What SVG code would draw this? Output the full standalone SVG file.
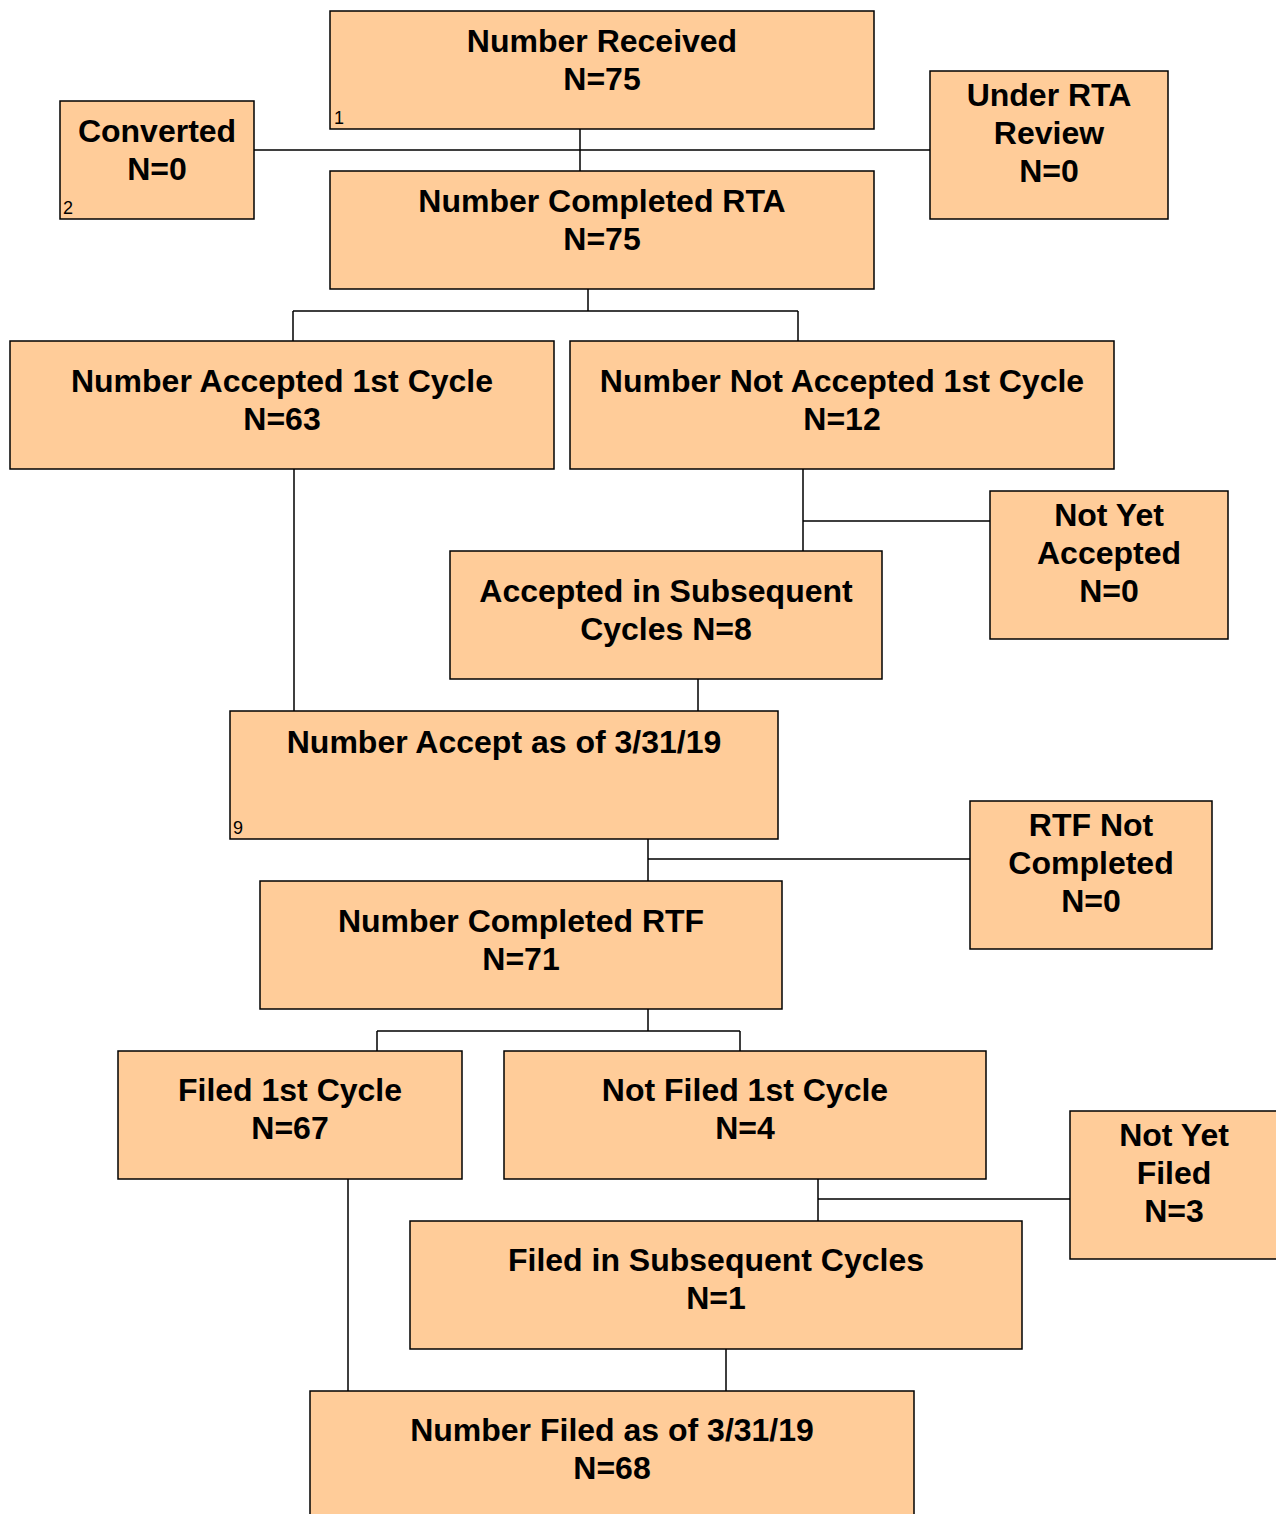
<svg xmlns="http://www.w3.org/2000/svg" width="1276" height="1514" viewBox="0 0 1276 1514">
<style>
.b{fill:#FFCC99;stroke:#000;stroke-width:1.5}
.t{font-family:"Liberation Sans",Arial,sans-serif;font-weight:bold;font-size:32px;fill:#000;text-anchor:middle}
.s{font-family:"Liberation Sans",Arial,sans-serif;font-size:18px;fill:#000}
.c{stroke:#000;stroke-width:1.5;fill:none}
</style>
<rect width="1276" height="1514" fill="#fff"/>
<g id="connectors">
<path class="c" d="M580 129V171M254 150H930"/>
<path class="c" d="M588 289V311M293 311H798M293 311V341M798 311V341"/>
<path class="c" d="M803 469V551M803 521H990"/>
<path class="c" d="M294 469V711M698 679V711"/>
<path class="c" d="M648 839V881M648 859H970"/>
<path class="c" d="M648 1009V1031M377 1031H740M377 1031V1051M740 1031V1051"/>
<path class="c" d="M818 1179V1221M818 1199H1070"/>
<path class="c" d="M348 1179V1391M726 1349V1391"/>
</g>
<g id="n1"><rect class="b" x="330" y="11" width="544" height="118"/><text class="t" x="602" y="52">Number Received</text><text class="t" x="602" y="90">N=75</text><text class="s" x="334" y="124">1</text></g>
<g id="n2"><rect class="b" x="60" y="101" width="194" height="118"/><text class="t" x="157" y="142">Converted</text><text class="t" x="157" y="180">N=0</text><text class="s" x="63" y="214">2</text></g>
<g id="n3"><rect class="b" x="930" y="71" width="238" height="148"/><text class="t" x="1049" y="106">Under RTA</text><text class="t" x="1049" y="144">Review</text><text class="t" x="1049" y="182">N=0</text></g>
<g id="n4"><rect class="b" x="330" y="171" width="544" height="118"/><text class="t" x="602" y="212">Number Completed RTA</text><text class="t" x="602" y="250">N=75</text></g>
<g id="n5"><rect class="b" x="10" y="341" width="544" height="128"/><text class="t" x="282" y="392">Number Accepted 1st Cycle</text><text class="t" x="282" y="430">N=63</text></g>
<g id="n6"><rect class="b" x="570" y="341" width="544" height="128"/><text class="t" x="842" y="392">Number Not Accepted 1st Cycle</text><text class="t" x="842" y="430">N=12</text></g>
<g id="n7"><rect class="b" x="990" y="491" width="238" height="148"/><text class="t" x="1109" y="526">Not Yet</text><text class="t" x="1109" y="564">Accepted</text><text class="t" x="1109" y="602">N=0</text></g>
<g id="n8"><rect class="b" x="450" y="551" width="432" height="128"/><text class="t" x="666" y="602">Accepted in Subsequent</text><text class="t" x="666" y="640">Cycles N=8</text></g>
<g id="n9"><rect class="b" x="230" y="711" width="548" height="128"/><text class="t" x="504" y="753">Number Accept as of 3/31/19</text><text class="s" x="233" y="834">9</text></g>
<g id="n10"><rect class="b" x="970" y="801" width="242" height="148"/><text class="t" x="1091" y="836">RTF Not</text><text class="t" x="1091" y="874">Completed</text><text class="t" x="1091" y="912">N=0</text></g>
<g id="n11"><rect class="b" x="260" y="881" width="522" height="128"/><text class="t" x="521" y="932">Number Completed RTF</text><text class="t" x="521" y="970">N=71</text></g>
<g id="n12"><rect class="b" x="118" y="1051" width="344" height="128"/><text class="t" x="290" y="1101">Filed 1st Cycle</text><text class="t" x="290" y="1139">N=67</text></g>
<g id="n13"><rect class="b" x="504" y="1051" width="482" height="128"/><text class="t" x="745" y="1101">Not Filed 1st Cycle</text><text class="t" x="745" y="1139">N=4</text></g>
<g id="n14"><rect class="b" x="1070" y="1111" width="210" height="148"/><text class="t" x="1174" y="1146">Not Yet</text><text class="t" x="1174" y="1184">Filed</text><text class="t" x="1174" y="1222">N=3</text></g>
<g id="n15"><rect class="b" x="410" y="1221" width="612" height="128"/><text class="t" x="716" y="1271">Filed in Subsequent Cycles</text><text class="t" x="716" y="1309">N=1</text></g>
<g id="n16"><rect class="b" x="310" y="1391" width="604" height="130"/><text class="t" x="612" y="1441">Number Filed as of 3/31/19</text><text class="t" x="612" y="1479">N=68</text></g>
</svg>
